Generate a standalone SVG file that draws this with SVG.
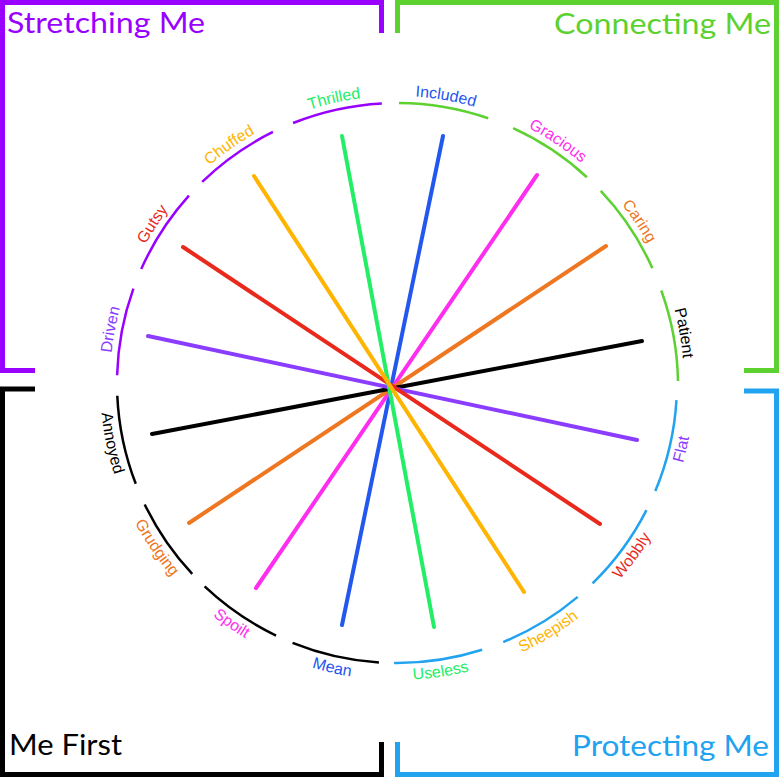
<svg xmlns="http://www.w3.org/2000/svg" xmlns:xlink="http://www.w3.org/1999/xlink" width="779" height="777" viewBox="0 0 779 777">
<style>
.frame{fill:none;stroke-width:5;stroke-linecap:butt;stroke-linejoin:miter}
.title{font-family:Lato,"Noto Sans","Liberation Sans",sans-serif;font-size:29.5px}
.arc{fill:none;stroke-width:2.5;stroke-linecap:butt}
.lbl{font-family:"Liberation Sans",Arial,sans-serif;font-size:16px;text-anchor:middle}
.spoke{fill:none;stroke-width:4;stroke-linecap:round}
.pu{stroke:#9900FF}.gr{stroke:#5CD130}.bl{stroke:#21A3F0}.bk{stroke:#000}
</style>
<defs>
<path id="topArc" d="M -184.48 -219.85 A 287 287 0 0 1 184.48 -219.85"/>
<path id="botArc" d="M -190.91 227.52 A 297 297 0 0 0 190.91 227.52"/>
</defs>
<rect width="779" height="777" fill="#fff"/>

<g id="stretching-me">
<path class="frame pu" d="M 35 370.5 H 2.5 V 2.5 H 381.5 V 33"/>
<text class="title" x="7" y="33" fill="#9900FF" textLength="198" lengthAdjust="spacingAndGlyphs">Stretching Me</text>
</g>
<g id="connecting-me">
<path class="frame gr" d="M 397.5 33 V 2.5 H 776.5 V 370.5 H 744"/>
<text class="title" x="771" y="33.5" fill="#5CD130" text-anchor="end" textLength="217" lengthAdjust="spacingAndGlyphs">Connecting Me</text>
</g>
<g id="me-first">
<path class="frame bk" d="M 35 389 H 2.5 V 774.5 H 381.5 V 742"/>
<text class="title" x="9" y="755" fill="#000" textLength="113" lengthAdjust="spacingAndGlyphs">Me First</text>
</g>
<g id="protecting-me">
<path class="frame bl" d="M 744 391 H 776.5 V 774.5 H 397.5 V 742"/>
<text class="title" x="769" y="756" fill="#21A3F0" text-anchor="end" textLength="197" lengthAdjust="spacingAndGlyphs">Protecting Me</text>
</g>

<g id="connectors">
<line class="spoke" stroke="#2258EE" x1="443" y1="136" x2="342" y2="625"/>
<line class="spoke" stroke="#FF2EEE" x1="537" y1="175" x2="256" y2="588"/>
<line class="spoke" stroke="#EE7722" x1="606" y1="246" x2="189" y2="523"/>
<line class="spoke" stroke="#000000" x1="642" y1="341" x2="152" y2="434"/>
<line class="spoke" stroke="#8B3DFF" x1="148" y1="336" x2="637" y2="440"/>
<line class="spoke" stroke="#E8291C" x1="183" y1="247" x2="600" y2="524"/>
<line class="spoke" stroke="#22EE66" x1="342" y1="136" x2="434" y2="627"/>
<line class="spoke" stroke="#FFB400" x1="254" y1="176" x2="524" y2="592"/>
</g>

<g id="included">
<path class="arc gr" d="M 398.95 103.0 A 280 280 0 0 1 488.16 118.25"/>
<text class="lbl" fill="#1F56EE" transform="translate(397,383) rotate(9.7)"><textPath xlink:href="#topArc" startOffset="50%">Included</textPath></text>
</g>
<g id="gracious">
<path class="arc gr" d="M 513.11 128.21 A 280 280 0 0 1 586.88 177.22"/>
<text class="lbl" fill="#FF2EEE" transform="translate(397,383) rotate(33.6)"><textPath xlink:href="#topArc" startOffset="50%">Gracious</textPath></text>
</g>
<g id="caring">
<path class="arc gr" d="M 600.78 190.97 A 280 280 0 0 1 652.39 268.22"/>
<text class="lbl" fill="#EE7722" transform="translate(397,383) rotate(56.25)"><textPath xlink:href="#topArc" startOffset="50%">Caring</textPath></text>
</g>
<g id="patient">
<path class="arc gr" d="M 661.26 290.46 A 280 280 0 0 1 677.99 381.05"/>
<text class="lbl" fill="#000" transform="translate(397,383) rotate(80.1)"><textPath xlink:href="#topArc" startOffset="50%">Patient</textPath></text>
</g>
<g id="flat">
<path class="arc bl" d="M 676.48 400.09 A 280 280 0 0 1 655.30 491.05"/>
<text class="lbl" fill="#8B3DFF" transform="translate(397,383) rotate(-76.9)"><textPath xlink:href="#botArc" startOffset="50%">Flat</textPath></text>
</g>
<g id="wobbly">
<path class="arc bl" d="M 646.48 510.12 A 280 280 0 0 1 592.56 583.39"/>
<text class="lbl" fill="#E8291C" transform="translate(397,383) rotate(-53.7)"><textPath xlink:href="#botArc" startOffset="50%">Wobbly</textPath></text>
</g>
<g id="sheepish">
<path class="arc bl" d="M 577.73 596.86 A 280 280 0 0 1 503.25 642.06"/>
<text class="lbl" fill="#FFB400" transform="translate(397,383) rotate(-31.3)"><textPath xlink:href="#botArc" startOffset="50%">Sheepish</textPath></text>
</g>
<g id="useless">
<path class="arc bl" d="M 482.13 649.74 A 280 280 0 0 1 394.07 662.99"/>
<text class="lbl" fill="#22EE66" transform="translate(397,383) rotate(-8.6)"><textPath xlink:href="#botArc" startOffset="50%">Useless</textPath></text>
</g>
<g id="mean">
<path class="arc bk" d="M 378.93 662.42 A 280 280 0 0 1 292.56 642.80"/>
<text class="lbl" fill="#1F56EE" transform="translate(397,383) rotate(12.8)"><textPath xlink:href="#botArc" startOffset="50%">Mean</textPath></text>
</g>
<g id="spoilt">
<path class="arc bk" d="M 276.03 635.52 A 280 280 0 0 1 204.61 586.44"/>
<text class="lbl" fill="#FF2EEE" transform="translate(397,383) rotate(34.5)"><textPath xlink:href="#botArc" startOffset="50%">Spoilt</textPath></text>
</g>
<g id="grudging">
<path class="arc bk" d="M 192.22 573.96 A 280 280 0 0 1 144.70 504.42"/>
<text class="lbl" fill="#EE7722" transform="translate(397,383) rotate(55.6)"><textPath xlink:href="#botArc" startOffset="50%">Grudging</textPath></text>
</g>
<g id="annoyed">
<path class="arc bk" d="M 135.77 483.80 A 280 280 0 0 1 117.29 395.70"/>
<text class="lbl" fill="#000" transform="translate(397,383) rotate(78.1)"><textPath xlink:href="#botArc" startOffset="50%">Annoyed</textPath></text>
</g>
<g id="driven">
<path class="arc pu" d="M 117.11 375.18 A 280 280 0 0 1 133.39 288.61"/>
<text class="lbl" fill="#8B3DFF" transform="translate(397,383) rotate(-79.4)"><textPath xlink:href="#topArc" startOffset="50%">Driven</textPath></text>
</g>
<g id="gutsy">
<path class="arc pu" d="M 141.21 269.11 A 280 280 0 0 1 188.92 195.64"/>
<text class="lbl" fill="#E8291C" transform="translate(397,383) rotate(-57)"><textPath xlink:href="#topArc" startOffset="50%">Gutsy</textPath></text>
</g>
<g id="chuffed">
<path class="arc pu" d="M 202.15 181.92 A 280 280 0 0 1 272.94 131.98"/>
<text class="lbl" fill="#FFB400" transform="translate(397,383) rotate(-35.2)"><textPath xlink:href="#topArc" startOffset="50%">Chuffed</textPath></text>
</g>
<g id="thrilled">
<path class="arc pu" d="M 293.02 123.02 A 280 280 0 0 1 381.86 103.41"/>
<text class="lbl" fill="#22EE66" transform="translate(397,383) rotate(-12.5)"><textPath xlink:href="#topArc" startOffset="50%">Thrilled</textPath></text>
</g>
</svg>
